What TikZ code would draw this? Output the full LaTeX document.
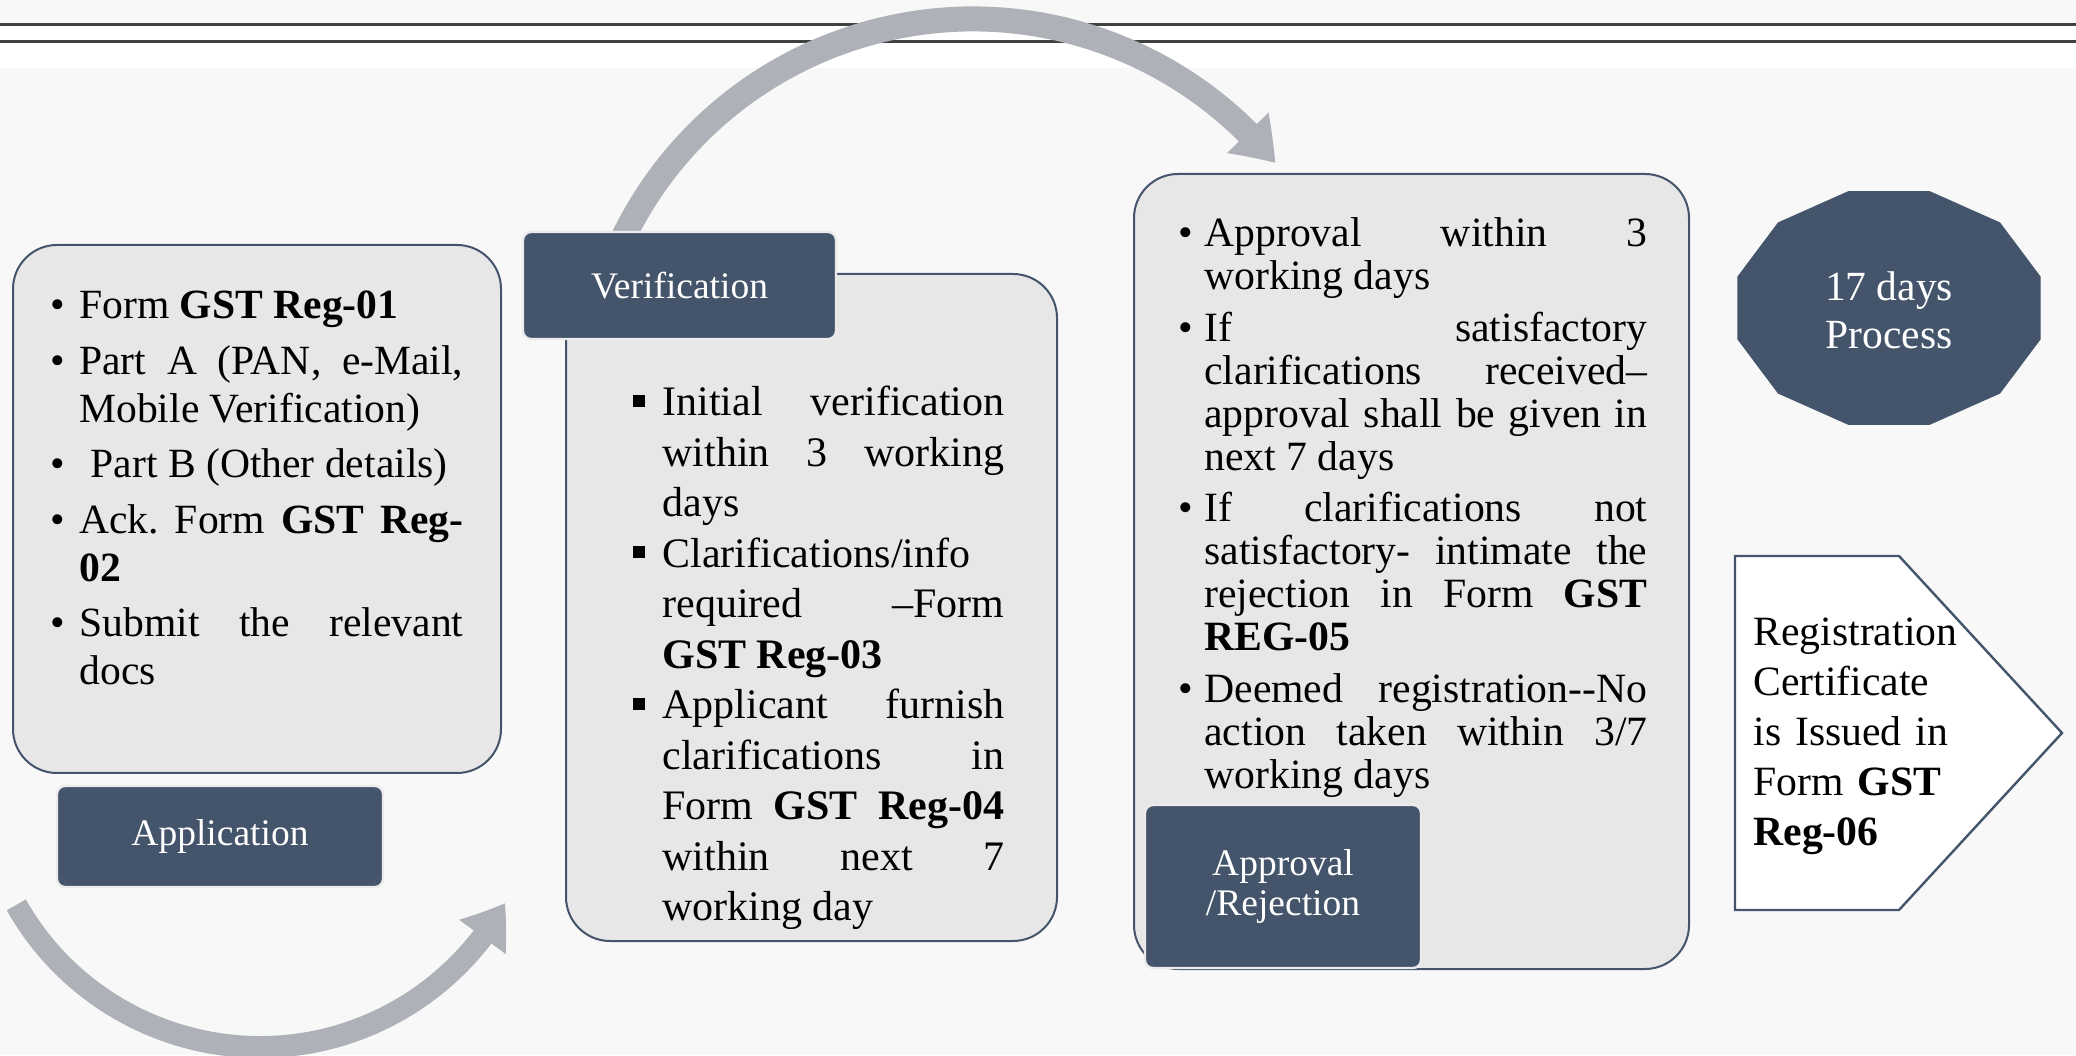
\documentclass[tikz,border=0pt]{standalone}
\usepackage{fontspec}
\setmainfont{Liberation Serif}
\usetikzlibrary{%
    arrows.meta,%
    bending%
}

\definecolor{slate}{HTML}{44546A}
\definecolor{panelgray}{RGB}{231,231,231}
\definecolor{arcgray}{RGB}{174,177,184}
\definecolor{pagegray}{RGB}{248,248,248}

\newlength{\hangw}
\newlength{\itemgap}
\newcommand{\bul}{\textbullet}
\newcommand{\sqb}{\rule[4.5pt]{6pt}{6pt}}
\newcommand{\entry}[2]{\noindent\hangindent=\hangw\hangafter=1\hbox to\hangw{#1\hfil}#2\par\vspace{\itemgap}}
\tolerance=10000
\hbadness=10000
\frenchspacing

\tikzset{
    stagebox/.style={draw=slate, line width=1pt, fill=panelgray, rounded corners=22pt, inner sep=0pt, anchor=north west},
    stagetag/.style={fill=slate, draw=black!8, line width=1.2pt, rounded corners=4pt, text=white, align=center,
        font=\fontsize{18.75pt}{20pt}\selectfont},
    bodytext/.style n args={3}{inner sep=0pt, anchor=base west, align=justify, text width=#1,
        execute at begin node={\setlength{\hangw}{#2}\setlength{\itemgap}{#3}}},
    bigarc/.style={draw=arcgray, line width=#1, -{Triangle[width=27.5pt,length=20.5pt,bend]}}
}

\begin{document}
\begin{tikzpicture}[x=0.5pt,y=0.5pt]
\useasboundingbox (0,0) rectangle (2076,1055);
\fill[pagegray] (0,0) rectangle (2076,1055);
\fill[white] (0,987) rectangle (2076,1030);
\draw[black!75, line width=1.5pt] (0,1030)--(2076,1030);
\draw[black!75, line width=1.5pt] (0,1013)--(2076,1013);

\coordinate (arcA) at (16.3,150.1);
\coordinate (arcB) at (617.6,805.2);
\draw[bigarc=11pt] (arcA) arc[start angle=209.5, end angle=331, radius=280];
\draw[bigarc=12.5pt] (arcB) arc[start angle=156, end angle=39, radius=389];

\node[stagebox, minimum width=244pt, minimum height=264pt] (appbox) at (12,811) {};
\node[stagebox, minimum width=245.5pt, minimum height=333.5pt] (verbox) at (565,782) {};
\node[stagebox, minimum width=277.5pt, minimum height=397.5pt] (aprbox) at (1133,882) {};

\node[bodytext={206.5pt}{14.5pt}{3.75pt}, font=\fontsize{20.8pt}{24pt}\selectfont] (apptxt) at (50,736) {%
\entry{\bul}{Form \textbf{GST Reg-01}}%
\entry{\bul}{Part A (PAN, e-Mail,\linebreak Mobile Verification)}%
\entry{\bul}{\hspace{0.27em}Part B (Other details)}%
\entry{\bul}{Ack. Form \textbf{GST Reg-\linebreak 02}}%
\entry{\bul}{Submit the relevant\linebreak docs}};

\node[bodytext={185.5pt}{14.5pt}{0pt}, font=\fontsize{21pt}{25.25pt}\selectfont] (vertxt) at (633,639) {%
\entry{\sqb}{Initial verification\linebreak within 3 working\linebreak days}%
\entry{\sqb}{Clarifications/info\linebreak required –Form\linebreak \textbf{GST Reg-03}}%
\entry{\sqb}{Applicant furnish\linebreak clarifications in\linebreak Form \textbf{GST Reg-04}\linebreak within next 7\linebreak working day}};

\node[bodytext={234.5pt}{13pt}{4.25pt}, font=\fontsize{20.85pt}{21.5pt}\selectfont] (aprtxt) at (1178,808) {%
\entry{\bul}{Approval within 3\linebreak working days}%
\entry{\bul}{If satisfactory\linebreak clarifications received–\linebreak approval shall be given in\linebreak next 7 days}%
\entry{\bul}{If clarifications not\linebreak satisfactory- intimate the\linebreak rejection in Form \textbf{GST\linebreak REG-05}}%
\entry{\bul}{Deemed registration-{}-No\linebreak action taken within 3/7\linebreak working days}};

\node[stagetag, minimum width=163pt, minimum height=50.5pt] (applbl) at (220,218.5) {Application};
\node[stagetag, minimum width=156.5pt, minimum height=53.5pt] (verlbl) at (679.5,769.5) {Verification};
\node[stagetag, minimum width=138pt, minimum height=81.5pt] (aprlbl) at (1283,168.5) {Approval\\/Rejection};

\fill[slate, shift={(1889,747)}] (15:157 and 121) \foreach \a in {45,75,...,345}{ -- (\a:157 and 121)} -- cycle;
\node[text=white, align=center, font=\fontsize{20.75pt}{24pt}\selectfont] (days) at (1889,745) {17 days\\Process};

\draw[slate, line width=1.2pt, fill=white] (1735,499)--(1899,499)--(2062,322)--(1899,145)--(1735,145)--cycle;
\node[inner sep=0pt, anchor=base west, text width=150pt, align=left, font=\fontsize{20.85pt}{25pt}\selectfont] (cert) at (1753,409)
    {Registration\\Certificate\\is Issued in\\Form \textbf{GST}\\\textbf{Reg-06}};
\end{tikzpicture}
\end{document}
